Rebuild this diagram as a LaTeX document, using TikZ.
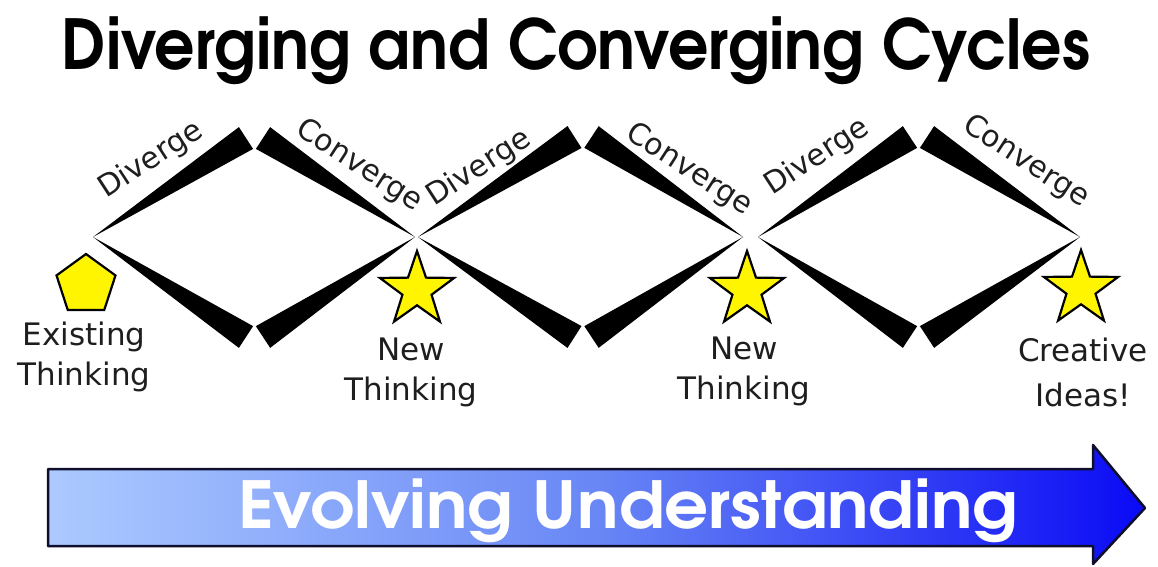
\documentclass[tikz,border=0pt]{standalone}
\usepackage{fontspec}
\usepackage{graphicx}
\usetikzlibrary{calc,shapes.geometric}
\newfontfamily\gothic{TeX Gyre Adventor}
\newfontfamily\hand{DejaVu Sans}
\definecolor{starfill}{RGB}{255,245,0}
\definecolor{navy}{RGB}{15,15,45}
\definecolor{arrowlight}{RGB}{172,202,255}
\definecolor{arrowmid}{RGB}{105,135,245}
\definecolor{arrowdark}{RGB}{10,10,245}
\definecolor{inkgrey}{RGB}{30,30,30}

% a tapered black wedge: sharp at #1, 26pt wide at #2
\newcommand\wedgefrom[2]{%
  \fill[wedgefill] (#1) -- ($(#2)!13pt!90:(#1)$) -- ($(#2)!13pt!-90:(#1)$) -- cycle;}

\begin{document}
\begin{tikzpicture}[x=1pt,y=-1pt,
  wedgefill/.style={fill=black},
  starshape/.style={star, star points=5, star point ratio=2.55, minimum size=78pt,
    inner sep=0pt, draw=black, line width=2.2pt, fill=starfill},
  pentshape/.style={regular polygon, regular polygon sides=5, minimum size=62pt,
    inner sep=0pt, draw=black, line width=2.2pt, fill=starfill},
  handlabel/.style={font=\hand\fontsize{31}{40}\selectfont, text=inkgrey,
    align=center, inner sep=0pt},
  wordlabel/.style={font=\hand\fontsize{30}{34}\selectfont, text=inkgrey, inner sep=0pt},
  titletext/.style={font=\gothic\bfseries, inner sep=0pt},
]
\useasboundingbox (0,0) rectangle (1158,566);

% title
\node[titletext] (title) at (576,51)
  {\resizebox*{1028pt}{68pt}{Diverging and Converging Cycles}};

% tips and wedge ends of the three diamonds
\coordinate (L1) at (93,237);
\coordinate (R1) at (415,237);
\coordinate (E1a) at (246,138);
\coordinate (E1b) at (263,138);
\coordinate (E1c) at (246,337);
\coordinate (E1d) at (263,337);

\coordinate (L2) at (418,237);
\coordinate (R2) at (743,237);
\coordinate (E2a) at (574.5,137);
\coordinate (E2b) at (591.5,137);
\coordinate (E2c) at (574.5,337);
\coordinate (E2d) at (591.5,337);

\coordinate (L3) at (758,237);
\coordinate (R3) at (1080,237);
\coordinate (E3a) at (910,137);
\coordinate (E3b) at (927,137);
\coordinate (E3c) at (910,337);
\coordinate (E3d) at (927,337);

\wedgefrom{L1}{E1a}\wedgefrom{R1}{E1b}\wedgefrom{L1}{E1c}\wedgefrom{R1}{E1d}
\wedgefrom{L2}{E2a}\wedgefrom{R2}{E2b}\wedgefrom{L2}{E2c}\wedgefrom{R2}{E2d}
\wedgefrom{L3}{E3a}\wedgefrom{R3}{E3b}\wedgefrom{L3}{E3c}\wedgefrom{R3}{E3d}

% phase labels along the upper wedges
\node[wordlabel, rotate=33]  (div1) at (151,160) {Diverge};
\node[wordlabel, rotate=-33] (con1) at (359,166) {Converge};
\node[wordlabel, rotate=33]  (div2) at (479,168) {Diverge};
\node[wordlabel, rotate=-33] (con2) at (689,170) {Converge};
\node[wordlabel, rotate=33]  (div3) at (817,157) {Diverge};
\node[wordlabel, rotate=-33] (con3) at (1026,162) {Converge};

% markers under the tips
\node[pentshape] (p0) at (86,285) {};
\node[starshape] (s1) at (417,290) {};
\node[starshape] (s2) at (747,290) {};
\node[starshape] (s3) at (1081,289) {};

\node[handlabel] (t0) at (84,357) {Existing\\Thinking};
\node[handlabel] (t1) at (411,372) {New\\Thinking};
\node[handlabel] (t2) at (744,371) {New\\Thinking};
\node[handlabel, font=\hand\fontsize{31}{45}\selectfont] (t3) at (1083,372) {Creative\\Ideas!};

% big arrow
\coordinate (a1) at (48,469);
\coordinate (a2) at (1093,469);
\coordinate (a3) at (1093,445);
\coordinate (a4) at (1145,508);
\coordinate (a5) at (1093,564);
\coordinate (a6) at (1093,546);
\coordinate (a7) at (48,546);
\shade[left color=arrowlight, right color=arrowdark, middle color=arrowmid]
  (a1) -- (a2) -- (a3) -- (a4) -- (a5) -- (a6) -- (a7) -- cycle;
\draw[navy, line width=2.5pt, line join=round]
  (a1) -- (a2) -- (a3) -- (a4) -- (a5) -- (a6) -- (a7) -- cycle;

\node[titletext, text=white] (evolve) at (628,510.5)
  {\resizebox*{780pt}{64pt}{Evolving Understanding}};
\end{tikzpicture}
\end{document}
